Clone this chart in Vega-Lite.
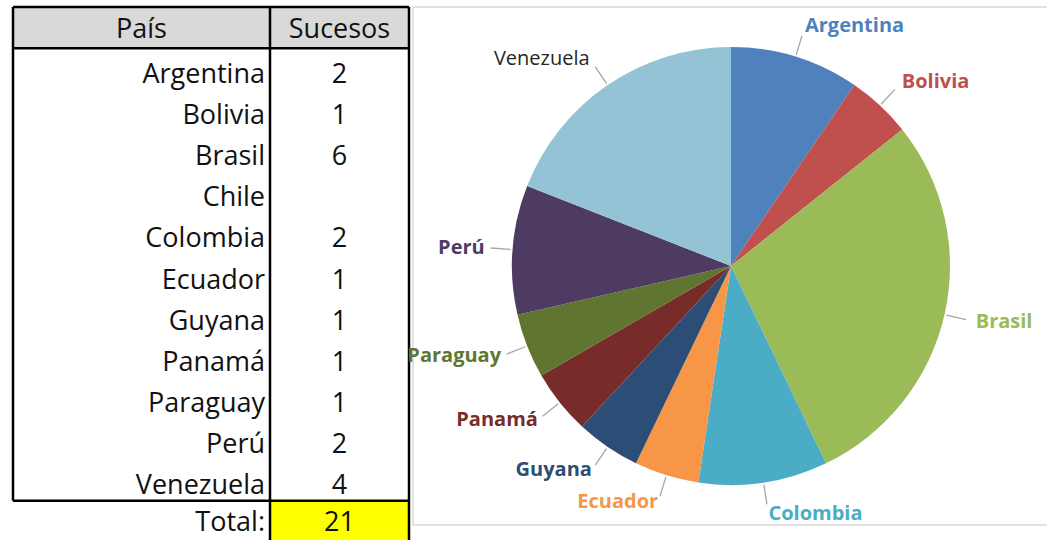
{
  "$schema": "https://vega.github.io/schema/vega-lite/v6.json",
  "padding": {"left": 11, "top": 5, "right": 0, "bottom": 0},
  "background": "white",
  "bounds": "flush",
  "spacing": 0,
  "config": {"view": {"stroke": null}, "font": "Open Sans"},
  "datasets": {
    "tabla": [
      {"fila": 1, "pais": "País", "sucesos_txt": "Sucesos", "tipo": "encabezado"},
      {"fila": 2, "pais": "Argentina", "sucesos_txt": "2", "tipo": "dato"},
      {"fila": 3, "pais": "Bolivia", "sucesos_txt": "1", "tipo": "dato"},
      {"fila": 4, "pais": "Brasil", "sucesos_txt": "6", "tipo": "dato"},
      {"fila": 5, "pais": "Chile", "sucesos_txt": "", "tipo": "dato"},
      {"fila": 6, "pais": "Colombia", "sucesos_txt": "2", "tipo": "dato"},
      {"fila": 7, "pais": "Ecuador", "sucesos_txt": "1", "tipo": "dato"},
      {"fila": 8, "pais": "Guyana", "sucesos_txt": "1", "tipo": "dato"},
      {"fila": 9, "pais": "Panamá", "sucesos_txt": "1", "tipo": "dato"},
      {"fila": 10, "pais": "Paraguay", "sucesos_txt": "1", "tipo": "dato"},
      {"fila": 11, "pais": "Perú", "sucesos_txt": "2", "tipo": "dato"},
      {"fila": 12, "pais": "Venezuela", "sucesos_txt": "4", "tipo": "dato"},
      {"fila": 13, "pais": "Total:", "sucesos_txt": "21", "tipo": "total"}
    ],
    "pastel": [
      {"pais": "Argentina", "sucesos": 2},
      {"pais": "Bolivia", "sucesos": 1},
      {"pais": "Brasil", "sucesos": 6},
      {"pais": "Chile", "sucesos": 0},
      {"pais": "Colombia", "sucesos": 2},
      {"pais": "Ecuador", "sucesos": 1},
      {"pais": "Guyana", "sucesos": 1},
      {"pais": "Panamá", "sucesos": 1},
      {"pais": "Paraguay", "sucesos": 1},
      {"pais": "Perú", "sucesos": 2},
      {"pais": "Venezuela", "sucesos": 4}
    ]
  },
  "hconcat": [
    {
      "width": 257,
      "height": 535,
      "data": {"name": "tabla"},
      "layer": [
        {
          "transform": [{"filter": "datum.tipo == 'encabezado'"}],
          "mark": {"type": "rect", "fill": "#d9d9d9"},
          "encoding": {
            "x": {"datum": 0, "type": "quantitative", "scale": {"domain": [0, 1], "nice": false, "zero": false}, "axis": null},
            "x2": {"datum": 1},
            "y": {"datum": 0.5, "type": "quantitative", "scale": {"domain": [0.5, 13.5], "reverse": true, "nice": false, "zero": false}, "axis": null},
            "y2": {"datum": 1.5}
          }
        },
        {
          "transform": [{"filter": "datum.tipo == 'encabezado'"}],
          "mark": {"type": "text", "align": "center", "baseline": "middle", "fontSize": 27, "color": "#111111", "dy": 2},
          "encoding": {
            "x": {"datum": 0.5, "type": "quantitative"},
            "y": {"field": "fila", "type": "quantitative"},
            "text": {"field": "pais"}
          }
        },
        {
          "transform": [{"filter": "datum.tipo == 'dato'"}],
          "mark": {"type": "text", "align": "right", "baseline": "middle", "fontSize": 27, "color": "#111111", "dx": -5, "dy": 6},
          "encoding": {
            "x": {"datum": 1, "type": "quantitative"},
            "y": {"field": "fila", "type": "quantitative"},
            "text": {"field": "pais"}
          }
        },
        {
          "transform": [{"filter": "datum.tipo == 'total'"}],
          "mark": {"type": "text", "align": "right", "baseline": "middle", "fontSize": 27, "color": "#111111", "dx": -5, "dy": 2},
          "encoding": {
            "x": {"datum": 1, "type": "quantitative"},
            "y": {"field": "fila", "type": "quantitative"},
            "text": {"field": "pais"}
          }
        },
        {
          "transform": [{"filter": "datum.tipo == 'encabezado'"}],
          "mark": {"type": "rule", "color": "#000000", "strokeWidth": 2.5},
          "encoding": {"y": {"datum": 0.5, "type": "quantitative"}}
        },
        {
          "transform": [{"filter": "datum.tipo == 'encabezado'"}],
          "mark": {"type": "rule", "color": "#000000", "strokeWidth": 2.5},
          "encoding": {"y": {"datum": 1.5, "type": "quantitative"}}
        },
        {
          "transform": [{"filter": "datum.tipo == 'encabezado'"}],
          "mark": {"type": "rule", "color": "#000000", "strokeWidth": 2.5},
          "encoding": {"y": {"datum": 12.5, "type": "quantitative"}}
        },
        {
          "transform": [{"filter": "datum.tipo == 'encabezado'"}],
          "mark": {"type": "rule", "color": "#000000", "strokeWidth": 2.5},
          "encoding": {
            "x": {"datum": 0, "type": "quantitative"},
            "y": {"datum": 0.5, "type": "quantitative"},
            "y2": {"datum": 12.5}
          }
        }
      ]
    },
    {
      "width": 139,
      "height": 535,
      "data": {"name": "tabla"},
      "layer": [
        {
          "transform": [{"filter": "datum.tipo == 'encabezado'"}],
          "mark": {"type": "rect", "fill": "#d9d9d9"},
          "encoding": {
            "x": {"datum": 0, "type": "quantitative", "scale": {"domain": [0, 1], "nice": false, "zero": false}, "axis": null},
            "x2": {"datum": 1},
            "y": {"datum": 0.5, "type": "quantitative", "scale": {"domain": [0.5, 13.5], "reverse": true, "nice": false, "zero": false}, "axis": null},
            "y2": {"datum": 1.5}
          }
        },
        {
          "transform": [{"filter": "datum.tipo == 'total'"}],
          "mark": {"type": "rect", "fill": "#ffff00"},
          "encoding": {
            "x": {"datum": 0, "type": "quantitative"},
            "x2": {"datum": 1},
            "y": {"datum": 12.5, "type": "quantitative"},
            "y2": {"datum": 13.5}
          }
        },
        {
          "transform": [{"filter": "datum.tipo == 'encabezado'"}],
          "mark": {"type": "text", "align": "center", "baseline": "middle", "fontSize": 27, "color": "#111111", "dy": 2},
          "encoding": {
            "x": {"datum": 0.5, "type": "quantitative"},
            "y": {"field": "fila", "type": "quantitative"},
            "text": {"field": "sucesos_txt"}
          }
        },
        {
          "transform": [{"filter": "datum.tipo == 'dato'"}],
          "mark": {"type": "text", "align": "center", "baseline": "middle", "fontSize": 27, "color": "#111111", "dy": 6},
          "encoding": {
            "x": {"datum": 0.5, "type": "quantitative"},
            "y": {"field": "fila", "type": "quantitative"},
            "text": {"field": "sucesos_txt"}
          }
        },
        {
          "transform": [{"filter": "datum.tipo == 'total'"}],
          "mark": {"type": "text", "align": "center", "baseline": "middle", "fontSize": 27, "color": "#111111", "dy": 2},
          "encoding": {
            "x": {"datum": 0.5, "type": "quantitative"},
            "y": {"field": "fila", "type": "quantitative"},
            "text": {"field": "sucesos_txt"}
          }
        },
        {
          "transform": [{"filter": "datum.tipo == 'encabezado'"}],
          "mark": {"type": "rule", "color": "#000000", "strokeWidth": 2.5},
          "encoding": {"y": {"datum": 0.5, "type": "quantitative"}}
        },
        {
          "transform": [{"filter": "datum.tipo == 'encabezado'"}],
          "mark": {"type": "rule", "color": "#000000", "strokeWidth": 2.5},
          "encoding": {"y": {"datum": 1.5, "type": "quantitative"}}
        },
        {
          "transform": [{"filter": "datum.tipo == 'encabezado'"}],
          "mark": {"type": "rule", "color": "#000000", "strokeWidth": 2.5},
          "encoding": {"y": {"datum": 12.5, "type": "quantitative"}}
        },
        {
          "transform": [{"filter": "datum.tipo == 'encabezado'"}],
          "mark": {"type": "rule", "color": "#000000", "strokeWidth": 2.5},
          "encoding": {
            "x": {"datum": 0, "type": "quantitative"},
            "y": {"datum": 0.5, "type": "quantitative"},
            "y2": {"datum": 13.5}
          }
        },
        {
          "transform": [{"filter": "datum.tipo == 'encabezado'"}],
          "mark": {"type": "rule", "color": "#000000", "strokeWidth": 2.5},
          "encoding": {
            "x": {"datum": 1, "type": "quantitative"},
            "y": {"datum": 0.5, "type": "quantitative"},
            "y2": {"datum": 13.5}
          }
        }
      ]
    },
    {
      "width": 4,
      "height": 10,
      "data": {"values": [{}]},
      "mark": {"type": "text", "text": ""},
      "encoding": {}
    },
    {
      "width": 636,
      "height": 518,
      "view": {"stroke": "#d9d9d9", "strokeWidth": 1.5},
      "data": {"name": "pastel"},
      "transform": [{"filter": "datum.sucesos > 0"}],
      "layer": [
        {
          "mark": {"type": "arc", "outerRadius": 219},
          "encoding": {
            "theta": {"field": "sucesos", "type": "quantitative", "stack": true},
            "color": {
              "field": "pais",
              "type": "nominal",
              "scale": {
                "domain": ["Argentina", "Bolivia", "Brasil", "Colombia", "Ecuador", "Guyana", "Panamá", "Paraguay", "Perú", "Venezuela"],
                "range": ["#4f81bd", "#c0504d", "#9bbb59", "#4bacc6", "#f79646", "#2c4d75", "#772c2a", "#5f7530", "#4d3b62", "#93c3d5"]
              },
              "legend": null
            }
          }
        },
        {
          "mark": {"type": "arc", "radius": 241, "radius2": 221, "padAngle": 3.2, "fill": null, "stroke": "#a6a6a6", "strokeWidth": 1.3},
          "encoding": {
            "theta": {"field": "sucesos", "type": "quantitative", "stack": true},
            "detail": {"field": "pais", "type": "nominal"}
          }
        },
        {
          "mark": {"type": "text", "radius": 251, "align": "left", "baseline": "middle", "fontSize": 20, "fontWeight": "bold"},
          "encoding": {
            "theta": {"field": "sucesos", "type": "quantitative", "stack": true},
            "color": {"field": "pais", "type": "nominal", "legend": null},
            "text": {"field": "pais"},
            "opacity": {"condition": {"test": "indexof(['Argentina','Bolivia','Brasil','Colombia'], datum.pais) >= 0", "value": 1}, "value": 0}
          }
        },
        {
          "mark": {"type": "text", "radius": 247, "align": "right", "baseline": "middle", "fontSize": 20, "fontWeight": "bold"},
          "encoding": {
            "theta": {"field": "sucesos", "type": "quantitative", "stack": true},
            "color": {"field": "pais", "type": "nominal", "legend": null},
            "text": {"field": "pais"},
            "opacity": {"condition": {"test": "indexof(['Ecuador','Guyana','Panamá','Paraguay','Perú'], datum.pais) >= 0", "value": 1}, "value": 0}
          }
        },
        {
          "mark": {"type": "text", "radius": 251, "align": "right", "baseline": "middle", "fontSize": 20, "fontWeight": "normal", "color": "#262626"},
          "encoding": {
            "theta": {"field": "sucesos", "type": "quantitative", "stack": true},
            "detail": {"field": "pais", "type": "nominal"},
            "text": {"field": "pais"},
            "opacity": {"condition": {"test": "datum.pais == 'Venezuela'", "value": 1}, "value": 0}
          }
        }
      ]
    }
  ]
}
